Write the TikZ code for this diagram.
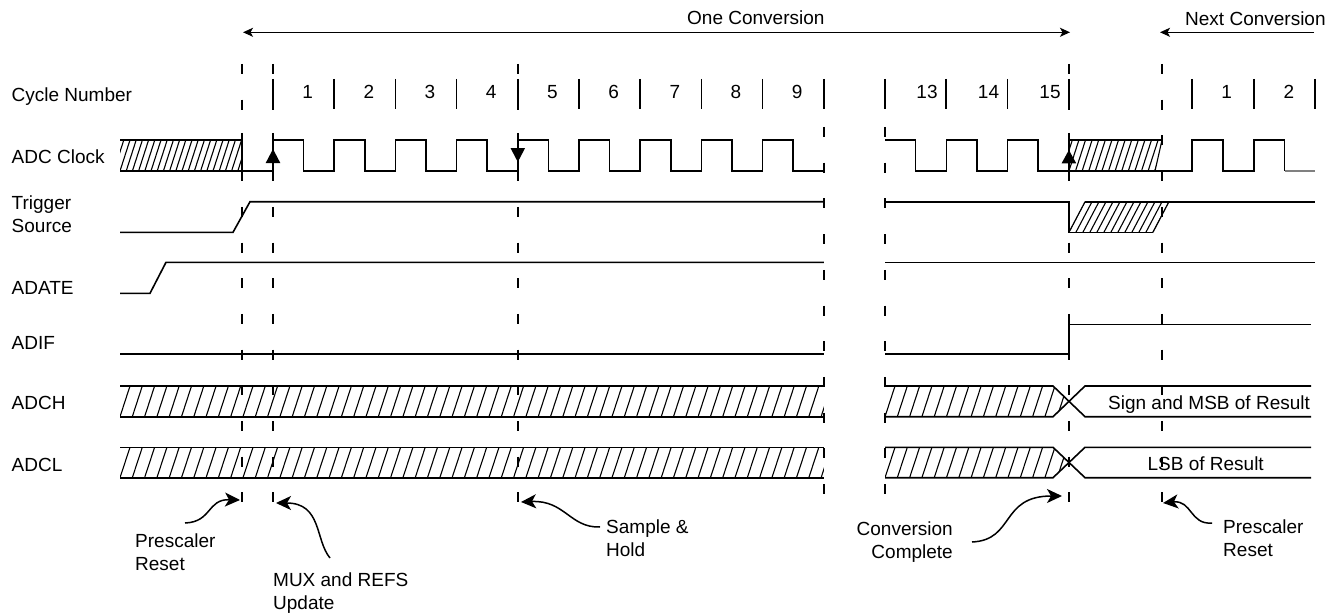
\documentclass[tikz,border=0pt]{standalone}
\usepackage{fontspec}
\setmainfont{Liberation Sans}
\usetikzlibrary{arrows.meta}
\begin{document}
\begin{tikzpicture}[x=1pt,y=-1pt,
  sig/.style={line width=1.6pt, line join=miter, line cap=butt},
  hl/.style={line width=1.1pt},
  dl/.style={line width=1.7pt, dash pattern=on 10pt off 25.7pt},
  tk/.style={line width=1.7pt},
  lbl/.style={font=\fontsize{19}{23}\selectfont, inner sep=0pt, anchor=base west},
  lble/.style={font=\fontsize{19}{23}\selectfont, inner sep=0pt, anchor=base east},
  num/.style={font=\fontsize{19}{23}\selectfont, inner sep=0pt, anchor=base},
  ann/.style={line width=1.5pt, -{Stealth[length=15pt,width=14pt,inset=4pt]}},
  toparrow/.style={line width=1.3pt},
]
\useasboundingbox (0,0) rectangle (1343,615);

% ---- row labels
\node[lbl] (lcyc) at (11.5,101.5) {Cycle Number};
\node[lbl] (lclk) at (11.5,163.3) {ADC Clock};
\node[lbl] (ltrga) at (11.5,209.3) {Trigger};
\node[lbl] (ltrgb) at (11.5,232.7) {Source};
\node[lbl] (ladate) at (11.5,294) {ADATE};
\node[lbl] (ladif) at (11.5,349.3) {ADIF};
\node[lbl] (ladch) at (11.5,409.3) {ADCH};
\node[lbl] (ladcl) at (11.5,471) {ADCL};

% ---- top arrows
\node[lbl] (onec) at (687,25) {One Conversion};
\node[lbl] (nextc) at (1185,26) {Next Conversion};
\coordinate (oca) at (243,32.3);
\coordinate (ocb) at (1070,32.3);
\draw[toparrow,{Stealth[length=10pt,width=9pt,inset=2.5pt]}-{Stealth[length=10pt,width=9pt,inset=2.5pt]}] (oca) -- (ocb);
\coordinate (nca) at (1314,32.3);
\coordinate (ncb) at (1160,32.3);
\draw[toparrow,-{Stealth[length=10pt,width=9pt,inset=2.5pt]}] (nca) -- (ncb);

% ---- cycle numbers
\foreach \n [count=\k from 0] in {1,...,9}
  \node[num] (cn\n) at ({307.6+61.2*\k},98.7) {\n};
\node[num] (cnxiii) at (927,98.7) {13};
\node[num] (cnxiv) at (988.5,98.7) {14};
\node[num] (cnxv) at (1050,98.7) {15};
\node[num] (cnna) at (1226.7,98.7) {1};
\node[num] (cnnb) at (1289,98.7) {2};

\foreach \x in {273,334.2,395.4,456.6,517.8,579,640.2,701.4,762.6,823.8,885,946.3,1007.6,1068.9,1192,1253.9,1315}
  \draw[tk] (\x,79) -- (\x,109);

% ---- dashed lines
\foreach \x in {242,273,517.8,1068.9,1161.7}
  \draw[dl] (\x,64) -- (\x,503);
\foreach \x in {823.8,885}
  \draw[dl] (\x,127) -- (\x,503);
\foreach \x in {242,273,517.8,1068.9}
  \draw[tk] (\x,133) -- (\x,181);

% ---- ADC clock
\begin{scope}
  \clip (120,140) rectangle (242,171);
  \foreach \i in {-2,...,20} \draw[hl] ({120+6.2*\i},171) -- ++(10,-31);
\end{scope}
\draw[sig] (120,140) -- (242,140);
\draw[sig] (120,171) -- (242,171)
  \foreach \k in {0,...,8} { -- ({273+61.2*\k},171) -- ({273+61.2*\k},140) -- ({303.6+61.2*\k},140) -- ({303.6+61.2*\k},171) }
  -- (823.8,171);
\draw[sig] (885,140) -- (915.6,140) -- (915.6,171) -- (946.3,171) -- (946.3,140) -- (977,140) -- (977,171)
  -- (1007.6,171) -- (1007.6,140) -- (1038.2,140) -- (1038.2,171) -- (1192,171) -- (1192,140)
  -- (1222.7,140) -- (1222.7,171) -- (1253.9,171) -- (1253.9,140) -- (1284.5,140) -- (1284.5,171);
\draw[sig,gray] (1284.5,171) -- (1315,171);
\begin{scope}
  \clip (1068.9,140) -- (1162,140) -- (1155,171) -- (1068.9,171) -- cycle;
  \foreach \i in {-2,...,14} \draw[hl] ({1068.9+6.6*\i},171) -- ++(10,-31);
\end{scope}
\draw[sig] (1068.9,140) -- (1162,140);
\draw[hl] (1155,171) -- (1162,140);
\fill (265.7,163) -- (273,149) -- (280.3,163) -- cycle;
\fill (510.5,148) -- (517.8,162) -- (525.1,148) -- cycle;
\fill (1061.6,163.3) -- (1068.9,150) -- (1076.2,163.3) -- cycle;

% ---- Trigger source
\draw[sig] (120,232.3) -- (233,232.3) -- (250,201.7) -- (823.8,201.7);
\draw[sig] (885,201.7) -- (1068.9,201.7) -- (1068.9,232.3) -- (1153,232.3);
\draw[sig] (1085,201.7) -- (1315,201.7);
\begin{scope}
  \clip (1068.9,232.3) -- (1085,201.7) -- (1169,201.7) -- (1153,232.3) -- cycle;
  \foreach \i in {0,...,12} \draw[hl] ({1068.9+7*\i},232.3) -- ++(16.1,-30.6);
\end{scope}
\draw[hl] (1068.9,232.3) -- (1085,201.7);
\draw[hl] (1153,232.3) -- (1169,201.7);

% ---- ADATE
\draw[sig] (120,293.3) -- (150,293.3) -- (166,262.3) -- (823.8,262.3);
\draw[sig] (885,262.3) -- (1315,262.3);

% ---- ADIF
\draw[sig] (120,354) -- (823.8,354);
\draw[sig] (885,354) -- (1068.9,354) -- (1068.9,324.3) -- (1311,324.3);

% ---- ADCH
\begin{scope}
  \clip (120,386) rectangle (823.8,416.7);
  \foreach \i in {-1,...,58} \draw[hl] ({120+12.3*\i},416.7) -- ++(10,-30.7);
\end{scope}
\begin{scope}
  \clip (885,386) -- (1053,386) -- (1069,401.3) -- (1053,416.7) -- (885,416.7) -- cycle;
  \foreach \i in {-1,...,15} \draw[hl] ({885+12.3*\i},416.7) -- ++(10,-30.7);
\end{scope}
\draw[sig] (120,386) -- (823.8,386);
\draw[sig] (120,416.7) -- (823.8,416.7);
\draw[sig] (885,386) -- (1053,386) -- (1085,416.7) -- (1311,416.7);
\draw[sig] (885,416.7) -- (1053,416.7) -- (1085,386) -- (1311,386);
\node[lbl] (msb) at (1108,409) {Sign and MSB of Result};

% ---- ADCL
\begin{scope}
  \clip (120,447.3) rectangle (823.8,477.7);
  \foreach \i in {-1,...,58} \draw[hl] ({120+12.3*\i},477.7) -- ++(10,-30.4);
\end{scope}
\begin{scope}
  \clip (885,447.3) -- (1053,447.3) -- (1069,462.5) -- (1053,477.7) -- (885,477.7) -- cycle;
  \foreach \i in {-1,...,15} \draw[hl] ({885+12.3*\i},477.7) -- ++(10,-30.4);
\end{scope}
\draw[sig] (120,447.3) -- (823.8,447.3);
\draw[sig] (120,477.7) -- (823.8,477.7);
\draw[sig] (885,447.3) -- (1053,447.3) -- (1085,477.7) -- (1311,477.7);
\draw[sig] (885,477.7) -- (1053,477.7) -- (1085,447.3) -- (1311,447.3);
\node[num] (lsb) at (1205.7,470) {LSB of Result};

% ---- annotations
\node[lbl] (pra) at (135,547) {Prescaler};
\node[lbl] (prb) at (135,570) {Reset};
\node[lbl] (muxa) at (273,586) {MUX and REFS};
\node[lbl] (muxb) at (273,609) {Update};
\node[lbl] (sha) at (606,533) {Sample \&};
\node[lbl] (shb) at (606,556) {Hold};
\node[lble] (cca) at (953,535) {Conversion};
\node[lble] (ccb) at (953,558) {Complete};
\node[lbl] (prc) at (1223,533) {Prescaler};
\node[lbl] (prd) at (1223,556) {Reset};

\coordinate (pratail) at (185,523);
\coordinate (prahead) at (240,500);
\draw[ann] (pratail) .. controls (212,522) and (207,499) .. (prahead);
\coordinate (muxtail) at (330,558);
\coordinate (muxhead) at (276,503);
\draw[ann] (muxtail) .. controls (315,540) and (322,503) .. (muxhead);
\coordinate (shtail) at (600,527);
\coordinate (shhead) at (521,502);
\draw[ann] (shtail) .. controls (570,528) and (565,500) .. (shhead);
\coordinate (cctail) at (972,542);
\coordinate (cchead) at (1062,496);
\draw[ann] (cctail) .. controls (1015,540) and (1000,496) .. (cchead);
\coordinate (prctail) at (1212,523);
\coordinate (prchead) at (1163,503);
\draw[ann] (prctail) .. controls (1190,525) and (1192,500) .. (prchead);
\end{tikzpicture}
\end{document}
